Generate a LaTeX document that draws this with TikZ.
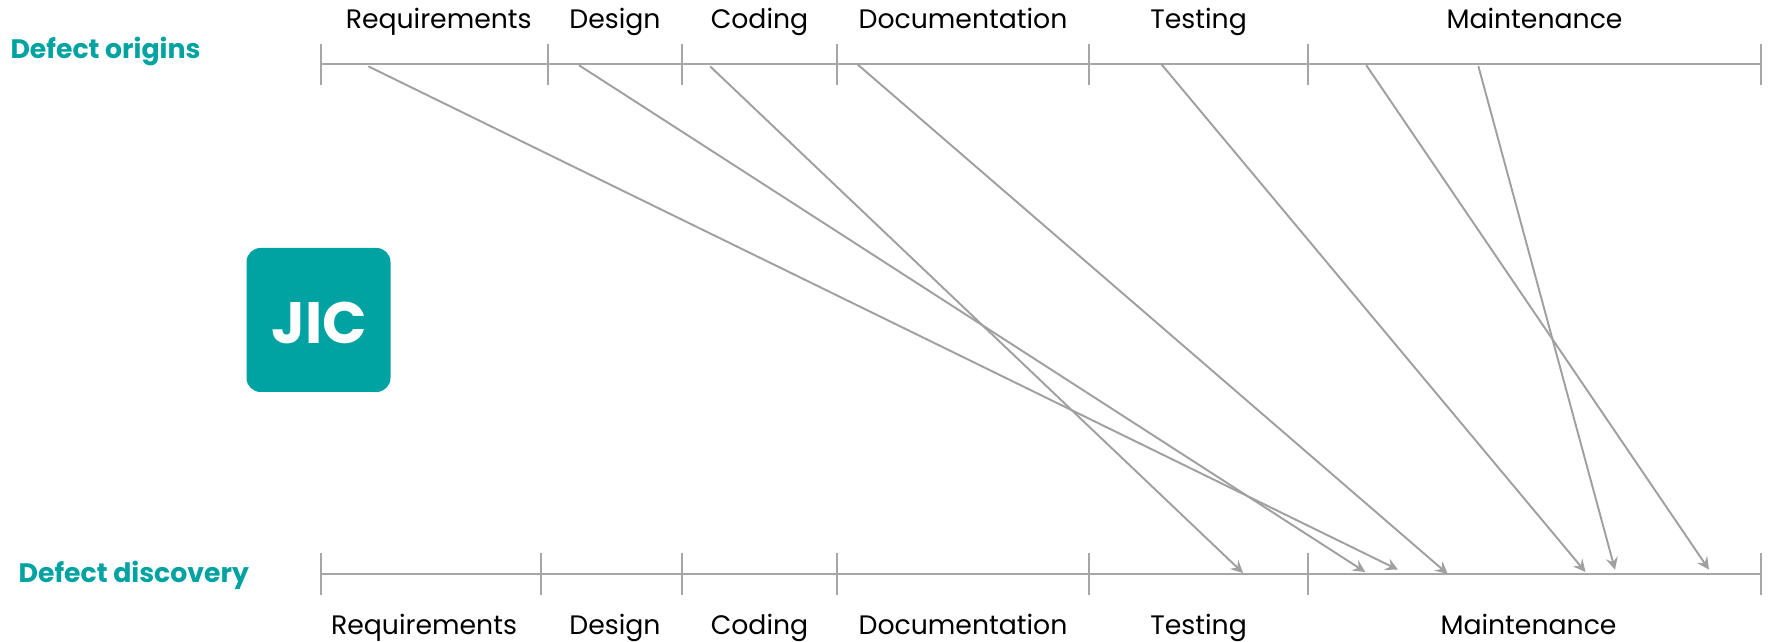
\documentclass[tikz,border=0pt]{standalone}
\usepackage{fontspec, tkz-euclide}
\setmainfont{Poppins}
\tikzset{>=stealth}
\definecolor{jicteal}{HTML}{00A3A1}
\definecolor{axisgray}{HTML}{A6A6A6}
\definecolor{arrowgray}{HTML}{A0A0A0}
\tikzset{
  axisline/.style={draw=axisgray, line width=0.6pt},
  defectline/.style={draw=arrowgray, line width=0.55pt, ->},
  phaselabel/.style={font=\fontsize{7.6pt}{9pt}\selectfont, text=black, inner sep=0pt, anchor=base},
  rowlabel/.style={font=\fontsize{7.6pt}{9pt}\selectfont\bfseries, text=jicteal, inner sep=0pt, anchor=base},
}
\begin{document}
\begin{tikzpicture}
\useasboundingbox (0,0) rectangle (17.73,6.42);
\tkzDefPoints{3.21/5.782/TL, 17.61/5.782/TR, 3.21/0.68/BL, 17.61/0.68/BR}
% defect start and end points
\tkzDefPoints{3.69/5.753/A, 13.98/0.723/B, 5.795/5.764/C, 13.652/0.70/D, 7.105/5.753/E, 12.43/0.69/F}
\tkzDefPoints{8.575/5.776/G, 14.477/0.68/H, 11.615/5.776/I, 15.855/0.70/J, 13.665/5.764/K, 17.09/0.723/L, 14.785/5.753/M, 16.15/0.723/N}
\tkzDrawSegments[axisline](TL,TR BL,BR)
\foreach \x in {3.21,5.484,6.82,8.37,10.89,13.08,17.61}
  \draw[axisline] (\x,5.98) -- (\x,5.57);
\foreach \x in {3.21,5.41,6.82,8.37,10.89,13.08,17.61}
  \draw[axisline] (\x,0.89) -- (\x,0.47);
\tkzDrawSegments[defectline](A,B C,D E,F G,H I,J K,L M,N)
\node[rowlabel] (originsLabel) at (1.055,5.83) {Defect origins};
\node[rowlabel] (discoveryLabel) at (1.338,0.595) {Defect discovery};
\node[phaselabel] (reqTop) at (4.387,6.135) {Requirements};
\node[phaselabel] (desTop) at (6.15,6.135) {Design};
\node[phaselabel] (codTop) at (7.595,6.135) {Coding};
\node[phaselabel] (docTop) at (9.63,6.135) {Documentation};
\node[phaselabel] (tesTop) at (11.986,6.135) {Testing};
\node[phaselabel] (maiTop) at (15.345,6.135) {Maintenance};
\node[phaselabel] (reqBot) at (4.24,0.075) {Requirements};
\node[phaselabel] (desBot) at (6.15,0.075) {Design};
\node[phaselabel] (codBot) at (7.595,0.075) {Coding};
\node[phaselabel] (docBot) at (9.63,0.075) {Documentation};
\node[phaselabel] (tesBot) at (11.986,0.075) {Testing};
\node[phaselabel] (maiBot) at (15.285,0.075) {Maintenance};
\node[fill=jicteal, rounded corners=0.14cm, minimum size=1.44cm, inner sep=0pt] (logo) at (3.185,3.22) {};
\node[text=white, inner sep=0pt, font=\fontsize{16.6pt}{18pt}\selectfont\bfseries] (logoText) at (3.195,3.19) {JIC};
\end{tikzpicture}
\end{document}
